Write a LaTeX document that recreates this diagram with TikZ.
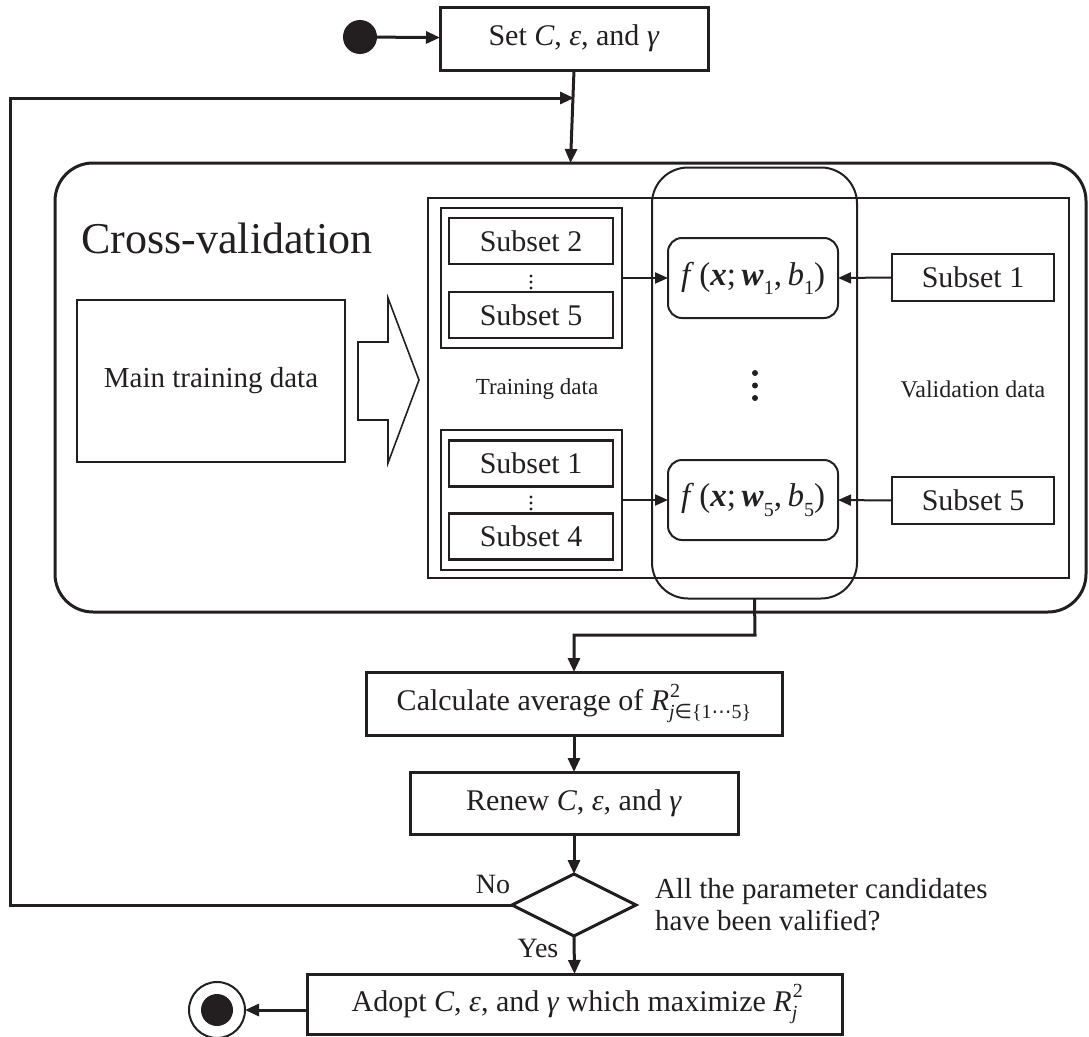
\documentclass[tikz,border=0pt]{standalone}
\usepackage{fontspec}
\setmainfont{Liberation Serif}
\newfontfamily\symf{DejaVu Sans}
\usetikzlibrary{arrows.meta,shapes.geometric}
\definecolor{ink}{RGB}{35,31,32}
\newcommand{\fs}[1]{\fontsize{#1}{#1}\selectfont}
% italic and bold-italic symbols, lowered and raised indices
\newcommand{\vi}[1]{\textit{#1}}
\newcommand{\vb}[1]{\textbf{\textit{#1}}}
\newcommand{\lo}[1]{\raisebox{-0.28em}{\fontsize{20}{20}\selectfont #1}}
\newcommand{\hi}[1]{\raisebox{0.45em}{\fontsize{20}{20}\selectfont #1}}
\newcommand{\Cset}{\vi{C}, \vi{ε}, and \vi{γ}}
\tikzset{
  every node/.style={text=ink, inner sep=0pt, outer sep=0pt},
  flowbox/.style={draw=ink, line width=3pt, rectangle, font=\fs{30}},
  subbox/.style={draw=ink, line width=2.2pt, rectangle, minimum width=164pt, minimum height=46pt, font=\fs{30}},
  groupbox/.style={draw=ink, line width=2pt, rectangle, minimum width=181pt, minimum height=140pt},
  modelbox/.style={draw=ink, line width=2pt, rectangle, rounded corners=14pt, minimum width=170pt, minimum height=80pt, font=\fs{33}},
  flow/.style={draw=ink, line width=3pt, -{Triangle[length=14pt,width=12pt]}},
  feed/.style={draw=ink, line width=2pt, -{Triangle[length=13pt,width=11pt]}},
}
\begin{document}
\begin{tikzpicture}[x=1pt,y=-1pt]
\useasboundingbox (0,0) rectangle (1089,1036);

% start and parameter setting
\node[circle, fill=ink, minimum size=34pt] (start) at (360,37) {};
\node[flowbox, minimum width=268pt, minimum height=63pt] (set) at (574,38.5) {Set \Cset};
\draw[flow] (start) -- (set);

% cross-validation frame
\node[draw=ink, line width=3pt, rectangle, rounded corners=38pt, minimum width=1031pt, minimum height=449pt] (cv) at (570.5,387.5) {};
\coordinate (cvtop) at (cv.north);
\draw[flow] (set.south) -- (cvtop);
\node[font=\fs{44}] (cvtitle) at (227,238) {Cross-validation};

% main training data and split arrow
\node[draw=ink, line width=1.6pt, rectangle, minimum width=268pt, minimum height=162pt, font=\fs{29}] (main) at (211,381) {Main training data};
\draw[draw=ink, line width=1.6pt, line join=miter] (358,342) -- (388,342) -- (388,298) -- (419,380) -- (388,463) -- (388,420) -- (358,420) -- cycle;

% data area
\node[draw=ink, line width=2pt, rectangle, minimum width=641pt, minimum height=380pt] (data) at (748.5,388) {};

% training folds
\node[groupbox] (g1) at (531.5,278) {};
\node[subbox] (s2) at (531,241) {Subset 2};
\node[subbox] (s5) at (531,315) {Subset 5};
\foreach \yy in {276,282,288} \fill[ink] (531,\yy) circle (1.6pt);
\node[groupbox] (g2) at (531.5,500) {};
\node[subbox] (s1) at (531,463.5) {Subset 1};
\node[subbox] (s4) at (531,536.5) {Subset 4};
\foreach \yy in {497,503,509} \fill[ink] (531,\yy) circle (1.6pt);
\node[font=\fs{23}] (tdata) at (537,389) {Training data};

% models
\node[draw=ink, line width=2pt, rectangle, rounded corners=36pt, minimum width=205pt, minimum height=431pt] (col) at (754.5,383) {};
\node[modelbox] (f1) at (753,278) {\vi{f}\,(\vb{x};\,\vb{w}\lo{1},\,\vi{b}\lo{1})};
\node[modelbox] (f5) at (753,500) {\vi{f}\,(\vb{x};\,\vb{w}\lo{5},\,\vi{b}\lo{5})};
\foreach \yy in {373,385.5,398} \fill[ink] (755,\yy) circle (3pt);

% validation folds
\node[subbox, minimum width=162pt, minimum height=47pt] (v1) at (973,277.5) {Subset 1};
\node[subbox, minimum width=162pt, minimum height=47pt] (v5) at (973,500.5) {Subset 5};
\node[font=\fs{24}] (vdata) at (973,389) {Validation data};

\draw[feed] (g1.east) -- (f1.west);
\draw[feed] (v1.west) -- (f1.east);
\draw[feed] (g2.east) -- (f5.west);
\draw[feed] (v5.west) -- (f5.east);

% evaluation
\node[flowbox, minimum width=416pt, minimum height=63pt] (calc) at (574,703.5)
  {Calculate average of \vi{R}\rlap{\kern1pt\hi{2}}\lo{\vi{j}{\symf ∈}\{1{\symf ⋯}5\}}};
\coordinate (bend) at (755,635);
\draw[flow] (col.south) -- (bend) -| (calc.north);
\node[flowbox, minimum width=328pt, minimum height=62pt] (renew) at (574,803) {Renew \Cset};
\draw[flow] (calc) -- (renew);

% decision
\node[draw=ink, line width=3pt, diamond, minimum width=124pt, minimum height=62pt] (dec) at (574,905) {};
\draw[flow] (renew) -- (dec);
\node[font=\fs{28}] (no) at (493,884) {No};
\node[font=\fs{28}] (yes) at (538,948) {Yes};
\node[font=\fs{29}, anchor=west, align=left] (question) at (655,905) {All the parameter candidates\\[3pt]have been valified?};
\coordinate (loopA) at (10,905);
\coordinate (loopB) at (10,98);
\coordinate (loopC) at (574,98);
\draw[flow] (dec.west) -- (loopA) -- (loopB) -- (loopC);

% result
\node[flowbox, minimum width=535pt, minimum height=60pt] (adopt) at (574.5,1004)
  {Adopt \Cset{} which maximize \vi{R}\rlap{\kern1pt\hi{2}}\lo{\vi{j}}};
\draw[flow] (dec.south) -- (adopt.north);
\node[circle, draw=ink, line width=2pt, minimum size=56pt] (end) at (217,1010) {};
\fill[ink] (end.center) circle (16pt);
\draw[flow] (adopt.west |- end) -- (end.east);
\end{tikzpicture}
\end{document}
